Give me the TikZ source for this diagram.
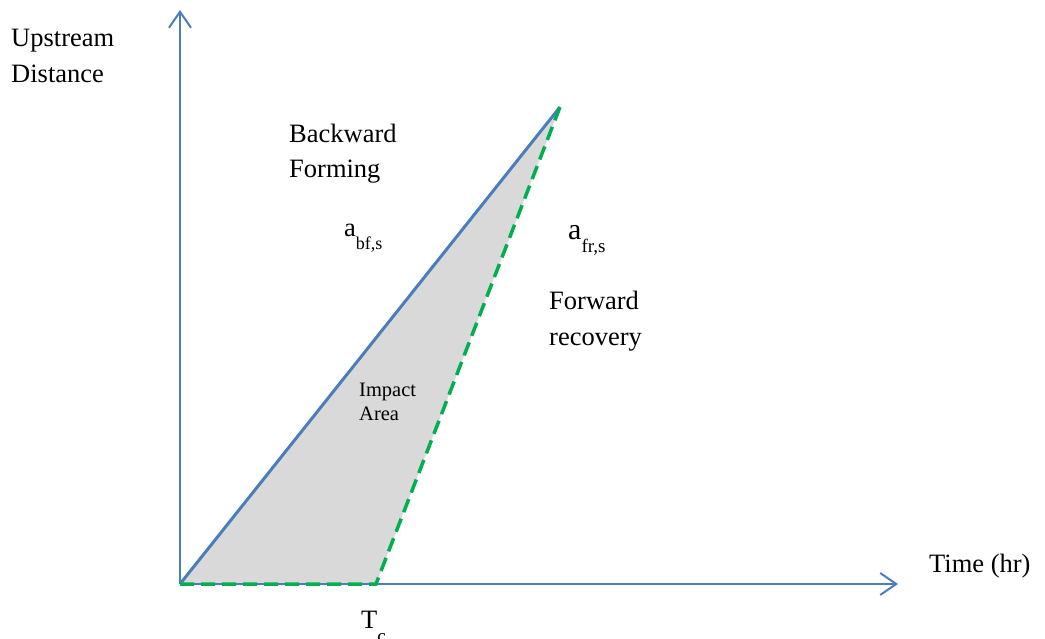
\documentclass[tikz,border=0pt]{standalone}
\usepackage{fontspec}
\setmainfont{Liberation Serif}
\usetikzlibrary{arrows.meta}
\definecolor{axisblue}{RGB}{74,126,187}
\definecolor{dashgreen}{RGB}{0,176,80}
\definecolor{areagray}{RGB}{217,217,217}
\begin{document}
\begin{tikzpicture}[x=1pt,y=-1pt,
  axis/.style={draw=axisblue,line width=2pt,-{Straight Barb[length=16pt,width=22pt,line width=2pt]}},
  bfline/.style={draw=axisblue,line width=3pt},
  frline/.style={draw=dashgreen,line width=3.5pt,dash pattern=on 14pt off 7pt},
  lbl/.style={anchor=base west,inner sep=0pt,font=\fontsize{26.5}{30}\selectfont},
  small/.style={anchor=base west,inner sep=0pt,font=\fontsize{20.5}{24}\selectfont}]
\useasboundingbox (0,0) rectangle (1045,639);
\coordinate (O) at (180,584);
\coordinate (Ytop) at (180,10);
\coordinate (Xend) at (898,584);
\coordinate (Apex) at (560,107);
\coordinate (Tc) at (376,584);
% impact area
\fill[areagray] (O) -- (Apex) -- (Tc) -- cycle;
% axes
\draw[axis] (O) -- (Ytop);
\draw[axis] (O) -- (Xend);
% backward forming wave
\draw[bfline] (O) -- (Apex);
% forward recovery wave
\draw[frline] (O) -- (Tc) -- (Apex);
% labels
\node[lbl] (up) at (11,47) {Upstream};
\node[lbl] (dist) at (11,83) {Distance};
\node[lbl] (bw) at (289,143) {Backward};
\node[lbl] (fm) at (289,178) {Forming};
\node[lbl] (abf) at (344,237) {a\raisebox{-13pt}{\fontsize{18}{20}\selectfont bf,s}};
\node[lbl] (afr) at (568,240) {\fontsize{30}{32}\selectfont a\raisebox{-13pt}{\fontsize{19}{20}\selectfont fr,s}};
\node[lbl] (fw) at (549,310) {Forward};
\node[lbl] (rc) at (549,345) {recovery};
\node[small] (imp) at (359,396) {Impact};
\node[small] (ar) at (359,420) {Area};
\node[lbl] (time) at (929,572) {Time (hr)};
\node[lbl] (tcl) at (361,628) {T\raisebox{-14pt}{\fontsize{19}{20}\selectfont c}};
\end{tikzpicture}
\end{document}
